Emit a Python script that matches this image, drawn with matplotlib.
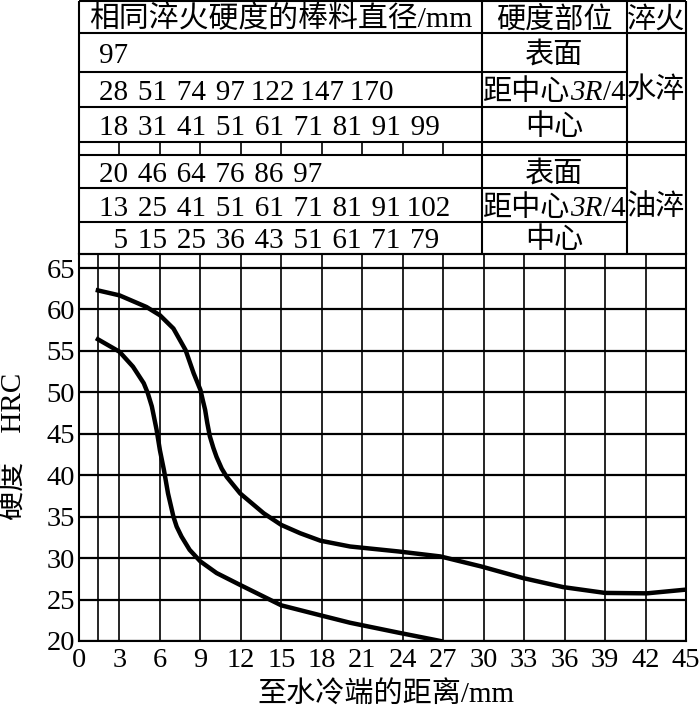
import matplotlib
matplotlib.use("Agg")
import matplotlib.pyplot as plt

plt.rcParams['font.family'] = ['Liberation Serif', 'Noto Sans CJK SC']

# ---------------- data ----------------
upper_x = [1.4, 3.0, 5.0, 6.0, 7.0, 7.9, 8.5, 9.0, 9.17, 9.35, 9.51, 9.7,
           9.96, 10.2, 10.58, 10.95, 11.95, 13.7, 15.0, 16.4, 17.9, 20.1,
           23.7, 26.8, 29.8, 32.9, 35.9, 39.0, 42.1, 45.0]
upper_y = [62.3, 61.7, 60.3, 59.3, 57.7, 55.1, 52.3, 50.3, 49.1, 47.9, 46.3,
           44.7, 43.3, 42.2, 40.8, 39.8, 37.8, 35.4, 34.0, 33.0, 32.1, 31.4,
           30.8, 30.2, 29.0, 27.6, 26.5, 25.8, 25.75, 26.2]
lower_x = [1.4, 3.0, 4.0, 4.8, 5.1, 5.4, 5.75, 6.0, 6.3, 6.6, 7.0, 7.24, 7.6,
           8.2, 9.0, 10.2, 11.9, 15.0, 17.9, 20.1, 23.7, 26.8]
lower_y = [56.4, 54.9, 53.1, 51.1, 49.9, 48.3, 45.5, 43.0, 40.6, 37.8, 35.0,
           33.8, 32.6, 31.0, 29.6, 28.2, 26.8, 24.3, 23.1, 22.2, 21.0, 20.0]

x_ticks = list(range(0, 46, 3))
y_ticks = list(range(20, 66, 5))
first_point = 1.4

header = ["相同淬火硬度的棒料直径/mm", "硬度部位", "淬火"]
quench = ["水淬", "油淬"]
positions = ["表面", ["距中心", "3R", "/4"], "中心"]
water_surface = [97]
water_34 = [28, 51, 74, 97, 122, 147, 170]
water_center = [18, 31, 41, 51, 61, 71, 81, 91, 99]
oil_surface = [20, 46, 64, 76, 86, 97]
oil_34 = [13, 25, 41, 51, 61, 71, 81, 91, 102]
oil_center = [5, 15, 25, 36, 43, 51, 61, 71, 79]
xlabel = "至水冷端的距离/mm"
ylabel = "硬度\u3000HRC"

# ---------------- layout ----------------
W, H = 700, 709
FS = 21


def px_rect(l, t, r, b):
    return [l / W, 1 - b / H, (r - l) / W, (b - t) / H]


fig = plt.figure(figsize=(W / 100, H / 100), dpi=100)
renderer = fig.canvas.get_renderer()

ax = fig.add_axes(px_rect(79, 254, 686, 641))
ax.set_xlim(0, 45)
ax.set_ylim(20, 66.69)
ax.set_xticks(x_ticks)
ax.set_yticks(y_ticks)
ax.tick_params(length=0, labelsize=20.5)
ax.tick_params(axis='x', pad=5)
ax.tick_params(axis='y', pad=3)
ax.grid(axis='y', color='black', lw=1.6)
ax.grid(axis='x', color='black', lw=1.2)
ax.axvline(first_point, color='black', lw=1.2)
for s in ax.spines.values():
    s.set_linewidth(1.5)
    s.set_color('black')

ax.plot(upper_x, upper_y, color='black', lw=3.2, solid_joinstyle='round')
ax.plot(lower_x, lower_y, color='black', lw=3.2, solid_joinstyle='round')

ax.set_xlabel(xlabel, fontsize=FS)
ax.xaxis.set_label_coords(0.505, -0.1395)
ax.xaxis.label.set_va('center')
ax.set_ylabel(ylabel, fontsize=FS)
ax.yaxis.set_label_coords(-0.1087, 0.504)
ax.yaxis.label.set_va('center')

# ---------------- table ----------------
tab = fig.add_axes(px_rect(79, 0, 686, 254))
tab.set_xlim(0, 45)
tab.set_ylim(254, 0)
tab.axis('off')
PX = 607 / 45  # pixels per x unit

c1, c2 = 29.85, 40.6
rows = [1, 33, 72, 107, 142, 155, 188, 222, 254]
lw = 1.5
kw = dict(color='black', lw=lw, clip_on=False)
for r in [1, 33, 142, 155, 254]:
    tab.hlines(r, 0, 45, **kw)
for r in [72, 107, 188, 222]:
    tab.hlines(r, 0, c2, **kw)
for c in [0, c1, c2, 45]:
    tab.vlines(c, 1, 254, **kw)
tab.vlines(x_ticks[1:10], 142, 155, color='black', lw=1.2, clip_on=False)

BASE = 10.5


def rowtext(vals, lead=""):
    s = lead + str(vals[0])
    for a, b in zip(vals[:-1], vals[1:]):
        sep = "\u2009" if (len(str(a)) > 2 or len(str(b)) > 2) else "\u2004"
        s += sep + str(b)
    return s


def cell(x, y0, y1, txt, ha='center', fs=FS):
    y = (y0 + y1) / 2 + BASE
    if isinstance(txt, list):
        styles = ['normal', 'italic', 'normal']
        parts = [tab.text(0, y, t, ha='left', va='baseline', fontsize=fs,
                          style=st) for t, st in zip(txt, styles)]
        widths = [p.get_window_extent(renderer).width for p in parts]
        start = x - sum(widths) / 2 / PX
        for p, w in zip(parts, widths):
            p.set_x(start)
            start += w / PX
        return
    tab.text(x, y, txt, ha=ha, va='baseline', fontsize=fs)


cell(c1 / 2, rows[0], rows[1], header[0], fs=21.5)
cell((c1 + c2) / 2, rows[0], rows[1], header[1])
cell((c2 + 45) / 2, rows[0], rows[1], header[2])

num_x = 1.45
water = [water_surface, water_34, water_center]
oil = [oil_surface, oil_34, oil_center]
for i in range(3):
    cell(num_x, rows[1 + i], rows[2 + i], rowtext(water[i]), ha='left')
    cell((c1 + c2) / 2, rows[1 + i], rows[2 + i], positions[i])
    lead = "  " if len(str(oil[i][0])) < 2 else ""
    cell(num_x, rows[5 + i], rows[6 + i], rowtext(oil[i], lead), ha='left')
    cell((c1 + c2) / 2, rows[5 + i], rows[6 + i], positions[i])
cell((c2 + 45) / 2, rows[1], rows[4], quench[0])
cell((c2 + 45) / 2, rows[5], rows[8], quench[1])

fig.savefig("out.png", dpi=100)
